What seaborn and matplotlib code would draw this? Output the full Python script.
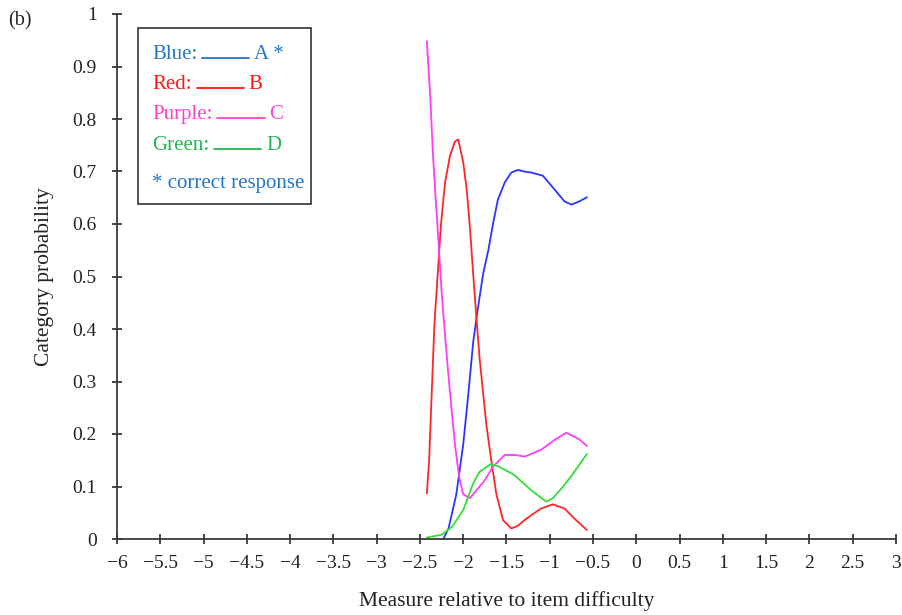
import numpy as np
import pandas as pd
import matplotlib
matplotlib.use("Agg")
import matplotlib.pyplot as plt
import seaborn as sns
from matplotlib.ticker import FuncFormatter
from matplotlib.patches import Rectangle
from matplotlib.lines import Line2D

# ---------------- data ----------------
blue_x = [-2.23, -2.17, -2.08, -2.0, -1.94, -1.885, -1.83, -1.77, -1.71, -1.655, -1.6,
          -1.52, -1.445, -1.37, -1.3, -1.215, -1.08, -0.946, -0.83, -0.75, -0.66, -0.57]
blue_y = [0.0, 0.02, 0.085, 0.18, 0.278, 0.375, 0.44, 0.505, 0.55, 0.601, 0.646,
          0.679, 0.698, 0.703, 0.70, 0.698, 0.692, 0.666, 0.643, 0.637, 0.643, 0.651]

red_x = [-2.42, -2.394, -2.364, -2.333, -2.295, -2.256, -2.21, -2.153, -2.096, -2.057,
         -2.0, -1.96, -1.92, -1.885, -1.847, -1.81, -1.77, -1.73, -1.675, -1.617, -1.54,
         -1.445, -1.37, -1.29, -1.2, -1.1, -0.966, -0.83, -0.716, -0.571]
red_y = [0.087, 0.149, 0.278, 0.408, 0.505, 0.601, 0.679, 0.730, 0.757, 0.761,
         0.717, 0.666, 0.588, 0.505, 0.42, 0.343, 0.278, 0.214, 0.149, 0.085, 0.036,
         0.02, 0.025, 0.036, 0.047, 0.058, 0.066, 0.058, 0.039, 0.017]

purple_x = [-2.42, -2.38, -2.353, -2.325, -2.287, -2.25, -2.21, -2.17, -2.134, -2.095,
            -2.046, -2.0, -1.923, -1.85, -1.75, -1.655, -1.52, -1.4, -1.29, -1.1, -0.95,
            -0.81, -0.66, -0.57]
purple_y = [0.948, 0.84, 0.743, 0.666, 0.569, 0.472, 0.388, 0.31, 0.246, 0.18,
            0.117, 0.085, 0.078, 0.092, 0.112, 0.138, 0.16, 0.16, 0.157, 0.17, 0.188,
            0.2025, 0.19, 0.177]

green_x = [-2.42, -2.25, -2.13, -2.0, -1.885, -1.81, -1.69, -1.6, -1.41, -1.215, -1.04,
           -0.966, -0.86, -0.755, -0.571]
green_y = [0.003, 0.008, 0.023, 0.055, 0.106, 0.128, 0.142, 0.139, 0.122, 0.093, 0.071,
           0.0775, 0.097, 0.119, 0.162]

options = ["A", "B", "C", "D"]
legend_names = ["Blue:", "Red:", "Purple:", "Green:"]
legend_tails = ["A *", "B", "C", "D"]
line_colors = ["#2b35ff", "#ff2525", "#ff3cff", "#33dd33"]
text_colors = ["#2277c6", "#ff1414", "#ff3fcf", "#1fb552"]
note_text = "* correct response"

x_ticks = np.arange(-6, 3.01, 0.5)
y_ticks = np.arange(0, 1.01, 0.1)

# ---------------- style ----------------
sns.set_style("ticks")
plt.rcParams['font.family'] = ['Liberation Serif', 'DejaVu Serif']
plt.rcParams['axes.unicode_minus'] = True

W, H = 903, 615
fig = plt.figure(figsize=(W / 100, H / 100), dpi=100)
ax = fig.add_axes([117 / W, 1 - 539 / H, (896 - 117) / W, (539 - 14) / H])

df = pd.concat([
    pd.DataFrame({"x": blue_x, "y": blue_y, "option": "A"}),
    pd.DataFrame({"x": red_x, "y": red_y, "option": "B"}),
    pd.DataFrame({"x": purple_x, "y": purple_y, "option": "C"}),
    pd.DataFrame({"x": green_x, "y": green_y, "option": "D"}),
], ignore_index=True)

sns.lineplot(data=df, x="x", y="y", hue="option", hue_order=options,
             palette=dict(zip(options, line_colors)), sort=False, estimator=None,
             legend=False, linewidth=1.3, ax=ax)

ax.set_xlim(-6, 3)
ax.set_ylim(0, 1)
ax.set_xticks(x_ticks)
ax.set_yticks(y_ticks)
fmt = FuncFormatter(lambda v, p: ("%g" % round(v, 2)).replace("-", "\u2212"))
ax.xaxis.set_major_formatter(fmt)
ax.yaxis.set_major_formatter(fmt)
sns.despine(ax=ax)
for s in ["left", "bottom"]:
    ax.spines[s].set_color("#3a3a3a")
    ax.spines[s].set_linewidth(1.3)
    ax.spines[s].set_zorder(5)
ax.tick_params(direction="inout", length=7, width=1.3, color="#3a3a3a",
               labelsize=14, labelcolor="#222222")
ax.tick_params(axis="y", pad=11)
ax.tick_params(axis="x", pad=8)
ax.set_xlabel("Measure relative to item difficulty", fontsize=15.5, color="#222222", labelpad=14)
ax.set_ylabel("Category probability", fontsize=15.5, color="#222222", labelpad=13)

fig.text(8 / W, 1 - 25 / H, "(b)", fontsize=14.5, color="#222222", va="baseline")

# ---------------- legend box ----------------
def fx(px):
    return px / W

def fy(py):
    return 1 - py / H

fig.add_artist(Rectangle((fx(138), fy(204)), (311 - 138) / W, (204 - 28) / H,
                         transform=fig.transFigure, fill=False, edgecolor="#333333",
                         linewidth=1.2))

renderer = fig.canvas.get_renderer()
baselines = [59, 89, 119, 150]
for name, tail, col, base in zip(legend_names, legend_tails, text_colors, baselines):
    t = fig.text(fx(152), fy(base), name, fontsize=15, color=col, va="baseline")
    bb = t.get_window_extent(renderer)
    x0 = bb.x1 + 5
    x1 = x0 + 47
    fig.add_artist(Line2D([fx(x0), fx(x1)], [fy(base - 1), fy(base - 1)],
                          transform=fig.transFigure, color=col, linewidth=1.3))
    fig.text(fx(x1 + 5), fy(base), tail, fontsize=15, color=col, va="baseline")

fig.text(fx(152), fy(188), note_text, fontsize=15, color=text_colors[0], va="baseline")

fig.savefig("out.png", dpi=100)
